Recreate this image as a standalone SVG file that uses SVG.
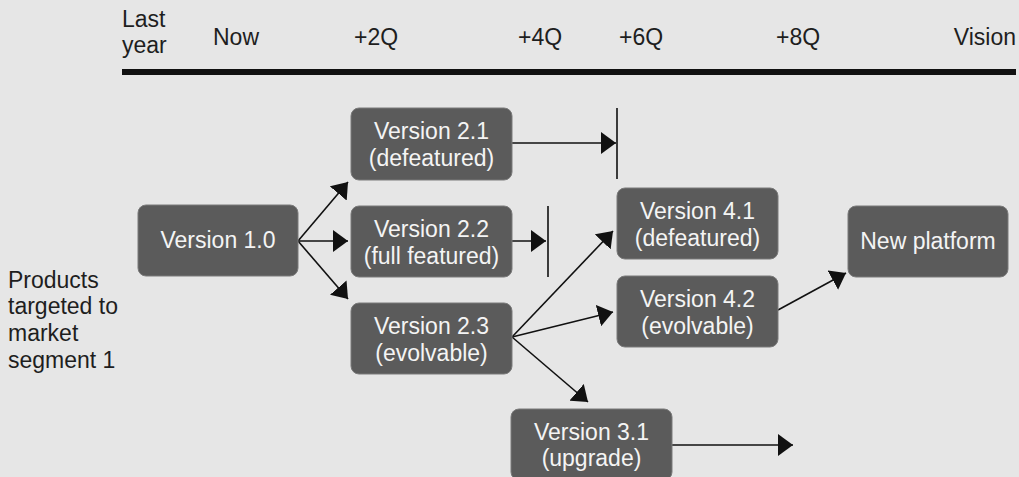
<svg xmlns="http://www.w3.org/2000/svg" width="1019" height="477" viewBox="0 0 1019 477">
  <style>
    text { font-family: "Liberation Sans", Arial, Helvetica, sans-serif; font-size: 23px; }
    .hdr { fill: #1e1e1e; }
    .box { fill: #5b5b5b; stroke: #7a7a7a; stroke-width: 1; }
    .lbl { fill: #f4f4f4; text-anchor: middle; }
    .conn { stroke: #111; stroke-width: 1.6; fill: none; }
    .stop { stroke: #111; stroke-width: 1.6; }
  </style>
  <defs>
    <marker id="arrow" viewBox="0 0 15 22" refX="15" refY="11" markerWidth="15" markerHeight="22" markerUnits="userSpaceOnUse" orient="auto">
      <path d="M0,0 L15,11 L0,22 z" fill="#111"/>
    </marker>
  </defs>
  <rect width="1019" height="477" fill="#e6e6e6"/>

  <!-- timeline header -->
  <g id="timeline">
    <text class="hdr" x="122" y="27">Last</text>
    <text class="hdr" x="122" y="53">year</text>
    <text class="hdr" x="213" y="45">Now</text>
    <text class="hdr" x="354" y="45">+2Q</text>
    <text class="hdr" x="518" y="45">+4Q</text>
    <text class="hdr" x="619" y="45">+6Q</text>
    <text class="hdr" x="776" y="45">+8Q</text>
    <text class="hdr" x="1016" y="45" text-anchor="end">Vision</text>
    <rect x="122" y="69" width="894" height="6" fill="#111"/>
  </g>

  <!-- row label -->
  <g id="segment-label">
    <text class="hdr" x="8" y="288">Products</text>
    <text class="hdr" x="8" y="314">targeted to</text>
    <text class="hdr" x="8" y="341">market</text>
    <text class="hdr" x="8" y="368">segment 1</text>
  </g>

  <!-- connectors -->
  <g id="connectors">
    <line class="conn" x1="298" y1="241" x2="348" y2="182" marker-end="url(#arrow)"/>
    <line class="conn" x1="298" y1="241" x2="348" y2="241" marker-end="url(#arrow)"/>
    <line class="conn" x1="298" y1="241" x2="348" y2="299" marker-end="url(#arrow)"/>
    <line class="conn" x1="512" y1="143" x2="616" y2="143" marker-end="url(#arrow)"/>
    <line class="stop" x1="617" y1="108" x2="617" y2="179"/>
    <line class="conn" x1="512" y1="241" x2="546" y2="241" marker-end="url(#arrow)"/>
    <line class="stop" x1="548" y1="206" x2="548" y2="277"/>
    <line class="conn" x1="512" y1="337" x2="613" y2="231" marker-end="url(#arrow)"/>
    <line class="conn" x1="512" y1="337" x2="613" y2="312" marker-end="url(#arrow)"/>
    <line class="conn" x1="512" y1="337" x2="588" y2="402" marker-end="url(#arrow)"/>
    <line class="conn" x1="778" y1="310" x2="846" y2="273" marker-end="url(#arrow)"/>
    <line class="conn" x1="672" y1="445" x2="793" y2="445" marker-end="url(#arrow)"/>
  </g>

  <!-- product nodes -->
  <g id="v1-0">
    <rect class="box" x="138" y="205" width="160" height="71" rx="8"/>
    <text class="lbl" x="218" y="248">Version 1.0</text>
  </g>
  <g id="v2-1">
    <rect class="box" x="351" y="108" width="161" height="72" rx="8"/>
    <text class="lbl" x="431.5" y="139">Version 2.1</text>
    <text class="lbl" x="431.5" y="166">(defeatured)</text>
  </g>
  <g id="v2-2">
    <rect class="box" x="351" y="206" width="161" height="71" rx="8"/>
    <text class="lbl" x="431.5" y="237">Version 2.2</text>
    <text class="lbl" x="431.5" y="264">(full featured)</text>
  </g>
  <g id="v2-3">
    <rect class="box" x="351" y="303" width="161" height="71" rx="8"/>
    <text class="lbl" x="431.5" y="334">Version 2.3</text>
    <text class="lbl" x="431.5" y="361">(evolvable)</text>
  </g>
  <g id="v3-1">
    <rect class="box" x="511" y="409" width="161" height="71" rx="8"/>
    <text class="lbl" x="591.5" y="440">Version 3.1</text>
    <text class="lbl" x="591.5" y="466">(upgrade)</text>
  </g>
  <g id="v4-1">
    <rect class="box" x="617" y="188" width="161" height="71" rx="8"/>
    <text class="lbl" x="697.5" y="219">Version 4.1</text>
    <text class="lbl" x="697.5" y="246">(defeatured)</text>
  </g>
  <g id="v4-2">
    <rect class="box" x="617" y="276" width="161" height="71" rx="8"/>
    <text class="lbl" x="697.5" y="307">Version 4.2</text>
    <text class="lbl" x="697.5" y="334">(evolvable)</text>
  </g>
  <g id="new-platform">
    <rect class="box" x="848" y="206" width="160" height="71" rx="8"/>
    <text class="lbl" x="928" y="249">New platform</text>
  </g>
</svg>
